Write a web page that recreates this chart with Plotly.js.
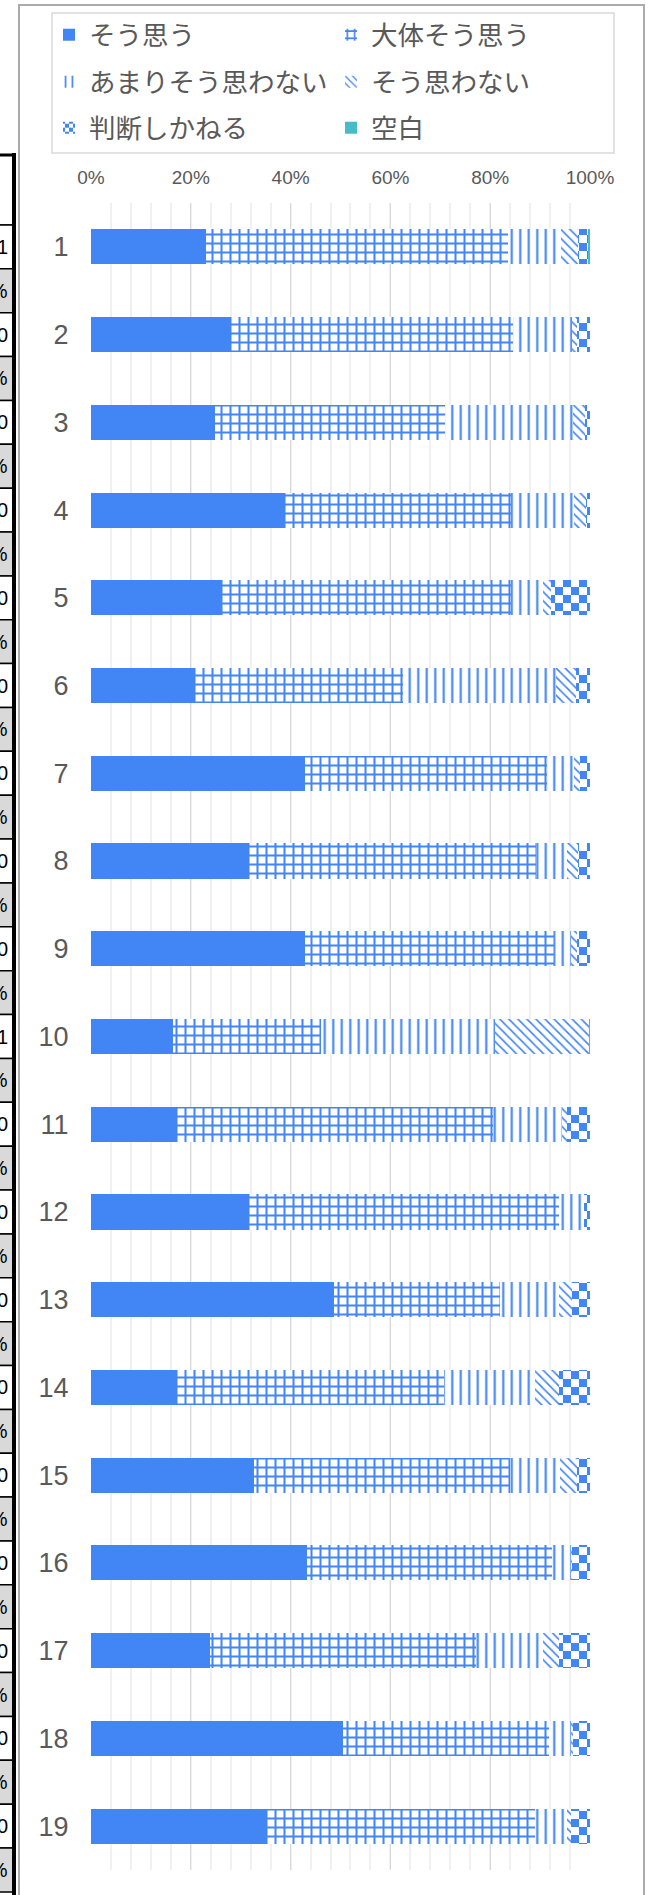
<!DOCTYPE html>
<html>
<head>
<meta charset="utf-8">
<script src="https://cdn.plot.ly/plotly-3.0.1.min.js"></script>
<style>
html,body{margin:0;padding:0;background:#fff;}
#chart{width:660px;height:1895px;}
</style>
</head>
<body>
<div id="chart"></div>
<script>
// ---- data (percent of respondents per question) ----
const categories = ['1','2','3','4','5','6','7','8','9','10','11','12','13','14','15','16','17','18','19'];
const seriesNames = ['そう思う','大体そう思う','あまりそう思わない','そう思わない','判断しかねる','空白'];
const agree       = [23.1,28.0,24.8,38.6,26.1,20.8,42.9,31.7,42.9,16.5,17.2,31.7,48.7,17.2,32.7,43.2,23.9,50.4,35.3];
const mostlyAgree = [60.5,56.5,46.2,45.6,58.1,41.7,48.5,57.4,49.9,29.5,63.3,62.1,33.3,53.6,51.2,49.1,53.3,41.4,53.6];
const notReally   = [10.5,11.8,25.6,12.6, 6.4,30.7, 5.4, 6.2, 3.3,35.0,13.8, 5.0,11.8,18.1,10.0, 3.8,13.4, 4.3, 6.4];
const disagree    = [ 3.4, 1.0, 2.3, 2.4, 1.5, 3.9, 1.2, 2.2, 1.2,18.7, 1.1, 0.0, 2.5, 4.9, 3.4, 0.3, 3.2, 0.5, 0.8];
const undecided   = [ 2.1, 2.7, 1.1, 0.8, 7.9, 2.9, 2.0, 2.5, 2.7, 0.0, 4.6, 1.2, 3.7, 6.2, 2.7, 3.6, 6.2, 3.4, 3.9];
const blank       = [ 0.4, 0.0, 0.0, 0.0, 0.0, 0.0, 0.0, 0.0, 0.0, 0.3, 0.0, 0.0, 0.0, 0.0, 0.0, 0.0, 0.0, 0.0, 0.0];
// blank-answer count column of the neighbouring table (partly visible at left)
const blankCount  = [1,0,0,0,0,0,0,0,0,1,0,0,0,0,0,0,0,0,0];
const xTickVals   = [0,20,40,60,80,100];
const xTickText   = ['0%','20%','40%','60%','80%','100%'];

// ---- styling ----
const BLUE = '#4285f4';
const TEAL = '#46bdc6';
const TXT = '#595959';
const seriesValues = [agree, mostlyAgree, notReally, disagree, undecided, blank];
const patterns = [
  null,
  {shape:'+', size:9, solidity:0.4},
  {shape:'|', size:8.5, solidity:0.25},
  {shape:'\\', size:6.4, solidity:0.25},
  {shape:'.', size:16, solidity:0.5},
  null
];
const colors = [BLUE, BLUE, BLUE, BLUE, BLUE, TEAL];
const legendIds = ['legend','legend2','legend3','legend4','legend5','legend6'];

const traces = seriesValues.map((vals, k) => {
  const marker = {color: colors[k], line:{width:0}};
  if (patterns[k]) {
    marker.pattern = Object.assign({fillmode:'replace', fgcolor: BLUE, bgcolor:'#ffffff'}, patterns[k]);
  }
  return {
    type:'bar', orientation:'h', name: seriesNames[k],
    y: categories, x: vals, marker: marker,
    legend: legendIds[k], hoverinfo:'skip'
  };
});

// pixel helpers (layout geometry)
const W = 660, H = 1895;
const ML = 91, MR = 70, MT = 203, MB = 25;
const PW = W - ML - MR, PH = H - MT - MB;
const px2x = p => (p - ML) / PW;
const px2y = p => (H - MB - p) / PH;
const nCat = categories.length;
const catY = f => 1 - f / nCat; // f = category index position (0 = top edge)

const legendFont = {family:'"Noto Sans CJK JP", "Noto Sans", sans-serif', size:26.5, color:TXT};
const layout = {
  width: W, height: H,
  margin: {l:ML, r:MR, t:MT, b:MB, autoexpand:false},
  paper_bgcolor:'#ffffff', plot_bgcolor:'#ffffff',
  barmode:'stack', bargap:0.6,
  font: {family:'"Liberation Sans", Arial, sans-serif', color:TXT},
  xaxis: {
    side:'top', range:[0,100], fixedrange:true,
    tickvals: xTickVals, ticktext: xTickText,
    tickfont:{size:19, color:TXT, family:'"Liberation Sans", Arial, sans-serif'},
    ticks:'outside', ticklen:10, tickcolor:'rgba(0,0,0,0)',
    showgrid:true, gridcolor:'#d9d9d9', gridwidth:1,
    minor:{dtick:4, showgrid:true, gridcolor:'#f0f0f0', gridwidth:2, ticks:''},
    zeroline:false, showline:false
  },
  yaxis: {
    type:'category', categoryorder:'array', categoryarray: categories,
    range:[nCat - 0.5, -0.5], fixedrange:true,
    tickfont:{size:27, color:TXT, family:'"Liberation Sans", Arial, sans-serif'},
    ticks:'outside', ticklen:16, tickcolor:'rgba(0,0,0,0)',
    showgrid:false, zeroline:false, showline:false
  },
  showlegend:true,
  shapes: [],
  annotations: []
};

// six single-entry legends arranged as a 2-column grid
const legCol = [49, 331];
const legRow = [35, 82, 128];
legendIds.forEach((id, k) => {
  layout[id] = {
    x: px2x(legCol[k % 2]), xanchor:'left',
    y: px2y(legRow[Math.floor(k / 2)]), yanchor:'middle',
    orientation:'h', bgcolor:'rgba(0,0,0,0)', borderwidth:0,
    font: legendFont, itemclick:false, itemdoubleclick:false
  };
});

// legend frame and outer chart frame
layout.shapes.push({type:'rect', xref:'paper', yref:'paper', layer:'below',
  x0:px2x(52), x1:px2x(614), y0:px2y(153), y1:px2y(13),
  line:{color:'#d9d9d9', width:1.5}, fillcolor:'rgba(0,0,0,0)'});
layout.shapes.push({type:'rect', xref:'paper', yref:'paper', layer:'below',
  x0:px2x(19), x1:px2x(644), y0:px2y(1905), y1:px2y(5),
  line:{color:'#ababab', width:2}, fillcolor:'rgba(0,0,0,0)'});

// neighbouring spreadsheet column (blank count / blank %), clipped by page edge
const tx0 = px2x(-30), tx1 = px2x(14);
layout.shapes.push({type:'rect', xref:'paper', yref:'paper',
  x0:tx0, x1:tx1, y0:catY(0.25), y1:px2y(155),
  fillcolor:'#ffffff', line:{color:'#000', width:1.5}});
categories.forEach((c, i) => {
  layout.shapes.push({type:'rect', xref:'paper', yref:'paper',
    x0:tx0, x1:tx1, y0:catY(i + 0.75), y1:catY(i + 0.25),
    fillcolor:'#ffffff', line:{color:'#000', width:1.5}});
  layout.shapes.push({type:'rect', xref:'paper', yref:'paper',
    x0:tx0, x1:tx1, y0:catY(i + 1.25), y1:catY(i + 0.75),
    fillcolor:'#d9d9d9', line:{color:'#000', width:1.5}});
  layout.annotations.push({xref:'paper', yref:'paper', x:px2x(10), xanchor:'right',
    y:catY(i + 0.5), yanchor:'middle', showarrow:false, text:String(blankCount[i]),
    font:{family:'"Liberation Sans", Arial, sans-serif', size:20, color:'#000'}});
  layout.annotations.push({xref:'paper', yref:'paper', x:px2x(10), xanchor:'right',
    y:catY(i + 1), yanchor:'middle', showarrow:false, text:blank[i].toFixed(1) + '%',
    font:{family:'"Liberation Sans", Arial, sans-serif', size:20, color:'#000'}});
});
layout.shapes.push({type:'line', xref:'paper', yref:'paper',
  x0:tx1, x1:tx1, y0:px2y(1905), y1:px2y(153), line:{color:'#000', width:4}});
layout.shapes.push({type:'line', xref:'paper', yref:'paper',
  x0:tx0, x1:tx1, y0:px2y(155), y1:px2y(155), line:{color:'#000', width:3}});

const gd = document.getElementById('chart');
const SVGNS = 'http://www.w3.org/2000/svg';
function checkerize() {
  // turn the dot pattern into a checkerboard (判断しかねる)
  gd.querySelectorAll('pattern').forEach(p => {
    if (!p.querySelector('circle')) return;
    const w = parseFloat(p.getAttribute('width')) || 16;
    const h = parseFloat(p.getAttribute('height')) || 16;
    while (p.firstChild) p.removeChild(p.firstChild);
    const mk = (x, y, ww, hh, fill) => {
      const r = document.createElementNS(SVGNS, 'rect');
      r.setAttribute('x', x); r.setAttribute('y', y);
      r.setAttribute('width', ww); r.setAttribute('height', hh);
      r.setAttribute('fill', fill);
      p.appendChild(r);
    };
    mk(0, 0, w, h, '#ffffff');
    mk(0, 0, w / 2, h / 2, BLUE);
    mk(w / 2, h / 2, w / 2, h / 2, BLUE);
  });
}
Plotly.newPlot(gd, traces, layout, {staticPlot:true, displayModeBar:false}).then(checkerize);
</script>
</body>
</html>
